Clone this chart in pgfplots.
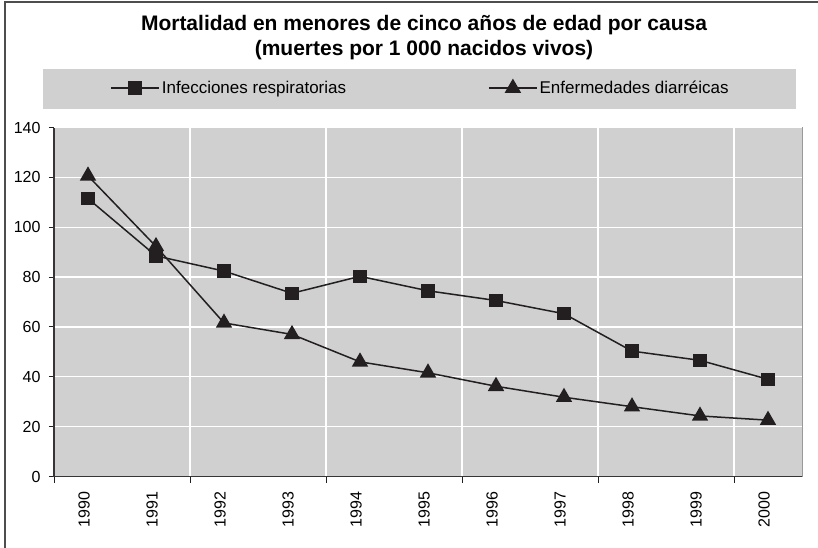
\documentclass[border=0pt]{standalone}
\usepackage{pgfplots}
\pgfplotsset{compat=1.18}
\usepackage{fontspec}
\setmainfont{Liberation Sans}
\definecolor{bg}{HTML}{D0D0D0}
\definecolor{ink}{HTML}{231F20}
\begin{document}
\begin{tikzpicture}
\path[use as bounding box] (0,0) rectangle (818bp,-548bp);
\fill[bg] (43bp,-69bp) rectangle (796bp,-109bp);
\draw[ink!80, line width=1.2bp] (5bp,-548bp) -- (5bp,-2bp) -- (818bp,-2bp);
\node[anchor=base, inner sep=0pt, font=\fontsize{21bp}{25bp}\selectfont\bfseries] at (424bp,-30bp) {Mortalidad en menores de cinco años de edad por causa};
\node[anchor=base, inner sep=0pt, font=\fontsize{21bp}{25bp}\selectfont\bfseries] at (424bp,-55bp) {(muertes por 1 000 nacidos vivos)};
\begin{axis}[
  at={(54bp,-476.5bp)}, anchor=south west,
  scale only axis, width=748bp, height=349bp,
  xmin=-0.5, xmax=10.5, ymin=0, ymax=140,
  ytick={0,20,...,140},
  xtick={0,...,10},
  xticklabels={1990,1991,1992,1993,1994,1995,1996,1997,1998,1999,2000},
  minor xtick={-0.5,1.5,3.5,5.5,7.5,9.5},
  major x tick style={draw=none},
  minor x tick style={ink, line width=1bp},
  ytick style={ink, line width=1bp},
  major tick length=5bp, minor tick length=6bp,
  tick align=outside,
  xmajorgrids=false, xminorgrids=true, ymajorgrids=true,
  grid style={white, line width=1.2bp},
  minor grid style={white, line width=1.2bp},
  axis background/.style={fill=bg, draw=gray!80, line width=1bp},
  axis x line*=bottom, axis y line*=left,
  axis line style={ink!90, line width=1.2bp, -},
  /pgf/number format/assume math mode=true,
  tick label style={font=\fontsize{16bp}{19bp}\selectfont},
  yticklabel style={xshift=-5bp},
  xticklabel style={xshift=-4bp, yshift=-7bp, rotate=90, anchor=east},
  legend columns=2,
  legend style={at={(0.490,1.113)}, anchor=center, draw=none, fill=none,
    font=\fontsize{17bp}{20bp}\selectfont,
    /tikz/every even column/.append style={column sep=140bp}},
  legend image code/.code={\draw[mark repeat=2, mark phase=2, #1] plot coordinates {(0bp,0bp)(24bp,0bp)(48bp,0bp)};},
]
\addplot[ink, line width=1.5bp, mark=square*, mark size=6bp, mark options={solid, fill=ink}]
  coordinates {(0,111.5)(1,88.5)(2,82.4)(3,73.5)(4,80.3)(5,74.5)(6,70.6)(7,65.3)(8,50.3)(9,46.6)(10,39.0)};
\addlegendentry{Infecciones respiratorias}
\addplot[ink, line width=1.5bp, mark=triangle*, mark size=8bp, mark options={solid, fill=ink}]
  coordinates {(0,120.6)(1,92.3)(2,61.6)(3,57.0)(4,46.0)(5,41.6)(6,36.2)(7,31.8)(8,28.0)(9,24.3)(10,22.6)};
\addlegendentry{Enfermedades diarréicas}
\end{axis}
\end{tikzpicture}
\end{document}
